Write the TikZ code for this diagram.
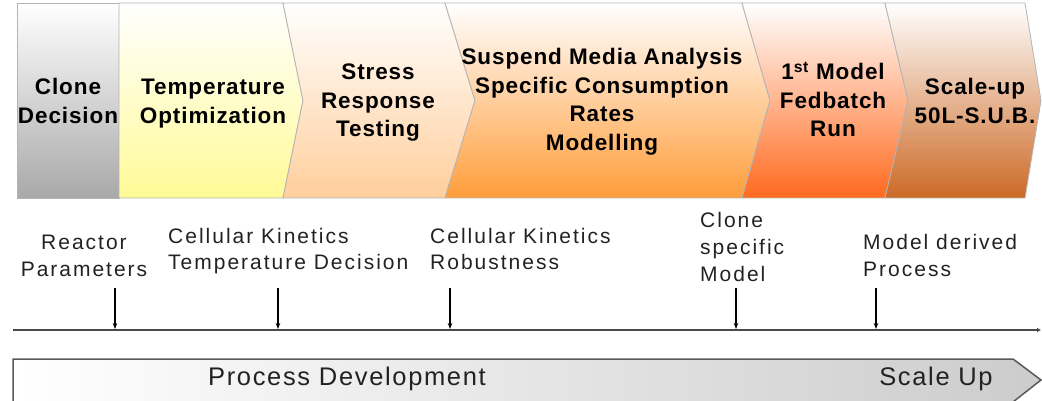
\documentclass[tikz,border=0pt]{standalone}
\usepackage{fontspec}
\setmainfont{Liberation Sans}
\newfontfamily\stagefont{Liberation Sans}[LetterSpace=4]
\newfontfamily\notefont{Liberation Sans}[LetterSpace=9.5]
\newfontfamily\barfont{Liberation Sans}[LetterSpace=6.5]
\usetikzlibrary{arrows.meta}

% stacked lines whose baseline is the first line's baseline
\newcommand\mlines[2]{\begin{tabular}[t]{@{}#1@{}}#2\end{tabular}}

\definecolor{cloneC}{HTML}{A9A9A9}
\definecolor{tempC}{HTML}{FFFA96}
\definecolor{stressC}{HTML}{FFCE9C}
\definecolor{mediaC}{HTML}{FF9D3B}
\definecolor{fedC}{HTML}{FF6A1F}
\definecolor{scaleC}{HTML}{CC6A26}
\definecolor{edgeC}{HTML}{B4B4B4}
\definecolor{inkC}{HTML}{222222}
\definecolor{axisC}{HTML}{4A4A4A}

\tikzset{
  stagebox/.style={draw=edgeC, line width=0.8pt, top color=white, bottom color=#1},
  stagetext/.style={inner sep=0pt, anchor=base, text=black,
    font=\stagefont\bfseries\fontsize{22.5}{28.5}\selectfont},
  notetext/.style={inner sep=0pt, text=inkC,
    font=\notefont\fontsize{21}{27}\selectfont},
  bartext/.style={inner sep=0pt, anchor=base, text=inkC,
    font=\barfont\fontsize{25.5}{30}\selectfont},
  milestone/.style={line width=1.2pt, black, -{Stealth[length=6pt,width=4.5pt]}},
}

\begin{document}
\begin{tikzpicture}[x=1pt, y=-1pt]
\useasboundingbox (0,0) rectangle (1042,401);

% ---- stage chevrons, top band ----
\path[stagebox=cloneC] (17,3) rectangle (119,198);
\path[stagebox=tempC] (119,3) -- (283,3) -- (303,100.5) -- (283,198) -- (119,198) -- cycle;
\path[stagebox=stressC] (283,3) -- (445,3) -- (475,100.5) -- (445,198) -- (283,198) -- (303,100.5) -- cycle;
\path[stagebox=mediaC] (445,3) -- (742,3) -- (770,100.5) -- (742,198) -- (445,198) -- (475,100.5) -- cycle;
\path[stagebox=fedC] (742,3) -- (885,3) -- (908,100.5) -- (885,198) -- (742,198) -- (770,100.5) -- cycle;
\path[stagebox=scaleC] (885,3) -- (1025,3) -- (1041,100.5) -- (1025,198) -- (885,198) -- (908,100.5) -- cycle;

\node[stagetext] (clone) at (68,95) {\mlines{c}{Clone\\Decision}};
\node[stagetext] (temp) at (213,95) {\mlines{c}{Temperature\\Optimization}};
\node[stagetext] (stress) at (378,80) {\mlines{c}{Stress\\Response\\Testing}};
\node[stagetext] (media) at (602,65) {\mlines{c}{Suspend Media Analysis\\Specific Consumption\\Rates\\Modelling}};
\node[stagetext] (fed) at (833,80) {\mlines{c}{1\textsuperscript{st} Model\\Fedbatch\\Run}};
\node[stagetext] (scale) at (975,95) {\mlines{c}{Scale-up\\50L-S.U.B.}};

% ---- milestone labels ----
\node[notetext, anchor=base] (reactor) at (84,249) {\mlines{c}{Reactor\\Parameters}};
\node[notetext, anchor=base west] (kintemp) at (168,243) {\mlines{l}{Cellular Kinetics\\Temperature Decision}};
\node[notetext, anchor=base west] (kinrob) at (430,243) {\mlines{l}{Cellular Kinetics\\Robustness}};
\node[notetext, anchor=base west] (clonemodel) at (700,227) {\mlines{l}{Clone\\specific\\Model}};
\node[notetext, anchor=base west] (derived) at (863,249) {\mlines{l}{Model derived\\Process}};

% ---- time axis with milestone arrows ----
\coordinate (axisL) at (13,330);
\coordinate (axisR) at (1041,330);
\draw[line width=2.2pt, axisC, -{Latex[length=4pt,width=5pt]}] (axisL) -- (axisR);

\foreach \name/\x in {mA/115, mB/278, mC/450, mD/736, mE/876}{
  \coordinate (\name s) at (\x,288);
  \coordinate (\name e) at (\x,329);
  \draw[milestone] (\name s) -- (\name e);
}

% ---- phase bar ----
\path[draw=black!65, line width=1.5pt, left color=white, right color=black!20]
  (13,359) -- (1013,359) -- (1041,380) -- (1013,402) -- (13,402) -- cycle;
\node[bartext] (dev) at (347,385) {Process Development};
\node[bartext] (up) at (936,385) {Scale Up};
\end{tikzpicture}
\end{document}
